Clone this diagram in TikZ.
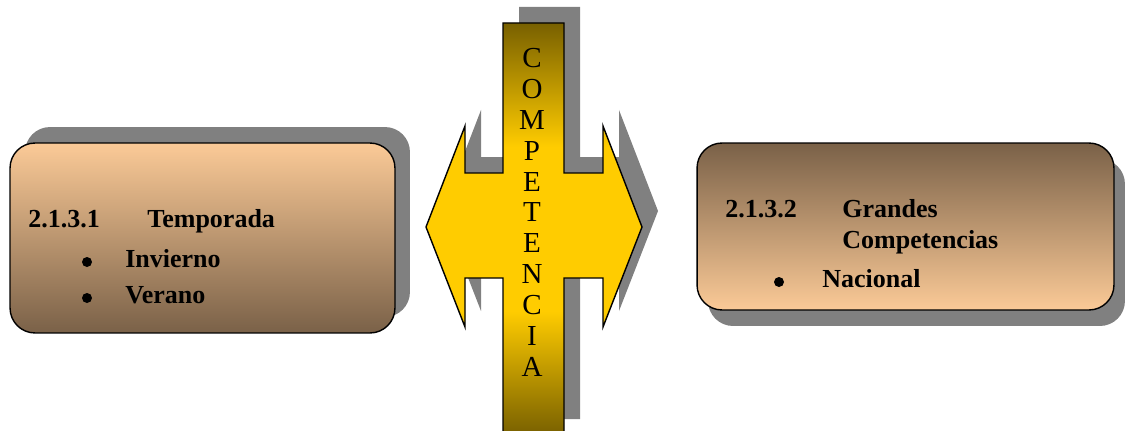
\documentclass[tikz,border=0pt]{standalone}
\usepackage{fontspec}
\setmainfont{Liberation Serif}
\usetikzlibrary{shadows}

\definecolor{peach}{HTML}{FBCA97}
\definecolor{brownish}{HTML}{7A6148}
\definecolor{crossyellow}{HTML}{FFCC00}
\definecolor{crossdark}{HTML}{786000}
\definecolor{shadowgray}{HTML}{808080}
% path box is mapped onto 25bp..75bp of the shading
\pgfdeclareverticalshading{crossshade}{100bp}{color(0bp)=(crossdark); color(25bp)=(crossdark); color(40bp)=(crossyellow); color(60bp)=(crossyellow); color(75bp)=(crossdark); color(100bp)=(crossdark)}

\begin{document}
\begin{tikzpicture}[
    x=0.02cm, y=0.02cm,
    box/.style={rectangle, rounded corners=0.5cm, draw, line width=0.8pt, inner sep=0pt},
    title/.style={anchor=base west, font=\fontsize{14.8}{17}\selectfont\bfseries, inner sep=0pt},
    bullet/.style={circle, fill=black, inner sep=0pt, minimum size=0.2cm},
    letter/.style={font=\fontsize{16.5}{18}\selectfont, inner sep=0pt}
]
  \useasboundingbox (0,0) rectangle (1125,430);
  \clip (0,0) rectangle (1125,430);

  % Cross shape (arrow and bar)
  \def\crossshape{(503,407) -- (564,407) -- (564,257) -- (603,257) -- (603,304) -- (642,203)
    -- (603,103) -- (603,152) -- (564,152) -- (564,-5) -- (503,-5) -- (503,152)
    -- (465,152) -- (465,103) -- (426,203) -- (465,304) -- (465,257) -- (503,257) -- cycle}
  \fill[shadowgray, shift={(16,16)}] \crossshape;
  \draw[line width=0.8pt, shading=crossshade] \crossshape;

  % Vertical word
  \foreach \ch [count=\i from 0] in {C,O,M,P,E,T,E,N,C,I,A}
    \node[letter] (l\i) at (532,{372-30.9*\i}) {\ch};

  % Left box
  \node[box, minimum width=7.7cm, minimum height=3.8cm, top color=peach, bottom color=brownish,
        drop shadow={shadow xshift=0.3cm, shadow yshift=0.32cm, fill=shadowgray, opacity=1}]
        (temp) at (202.5,192) {};
  \node[title] (tnum) at (28,203) {2.1.3.1};
  \node[title] (tname) at (147,203) {Temporada};
  \node[bullet] (b1) at (87,168) {};
  \node[title] (inv) at (125,163) {Invierno};
  \node[bullet] (b2) at (87,132) {};
  \node[title] (ver) at (125,127) {Verano};

  % Right box
  \node[box, minimum width=8.34cm, minimum height=3.34cm, top color=brownish, bottom color=peach,
        drop shadow={shadow xshift=0.22cm, shadow yshift=-0.32cm, fill=shadowgray, opacity=1}]
        (grand) at (905.5,203.5) {};
  \node[title] (gnum) at (725,213) {2.1.3.2};
  \node[title] (gname) at (842,213) {Grandes};
  \node[title] (gname2) at (842,182) {Competencias};
  \node[bullet] (b3) at (779,148) {};
  \node[title] (nac) at (822,143) {Nacional};
\end{tikzpicture}
\end{document}
